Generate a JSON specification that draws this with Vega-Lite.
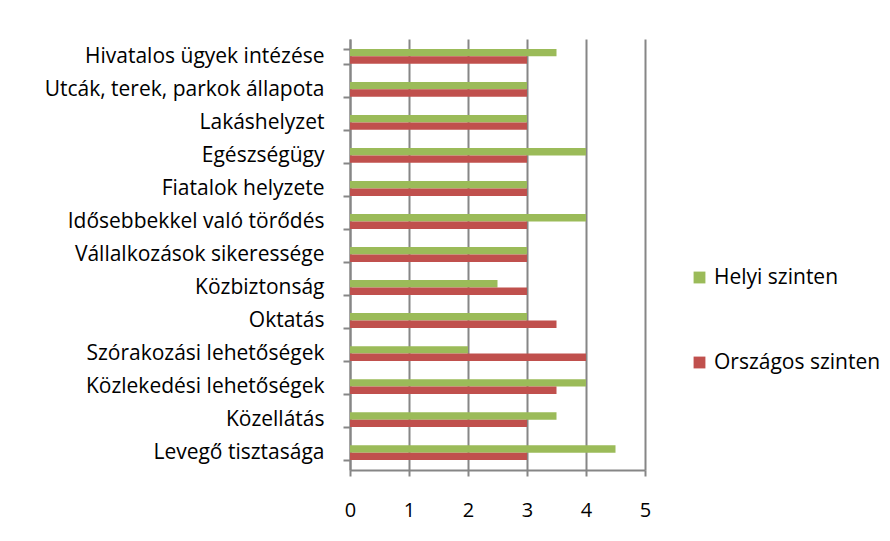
{
  "$schema": "https://vega.github.io/schema/vega-lite/v6.json",
  "autosize": {"type": "none"},
  "width": 295,
  "height": 431,
  "padding": {"left": 350, "top": 39, "right": 245, "bottom": 71},
  "background": "white",
  "config": {
    "view": {"stroke": null},
    "font": "Open Sans"
  },
  "data": {
    "values": [
      {"cat": "Hivatalos ügyek intézése", "series": "Helyi szinten", "value": 3.5},
      {"cat": "Hivatalos ügyek intézése", "series": "Országos szinten", "value": 3},
      {"cat": "Utcák, terek, parkok állapota", "series": "Helyi szinten", "value": 3},
      {"cat": "Utcák, terek, parkok állapota", "series": "Országos szinten", "value": 3},
      {"cat": "Lakáshelyzet", "series": "Helyi szinten", "value": 3},
      {"cat": "Lakáshelyzet", "series": "Országos szinten", "value": 3},
      {"cat": "Egészségügy", "series": "Helyi szinten", "value": 4},
      {"cat": "Egészségügy", "series": "Országos szinten", "value": 3},
      {"cat": "Fiatalok helyzete", "series": "Helyi szinten", "value": 3},
      {"cat": "Fiatalok helyzete", "series": "Országos szinten", "value": 3},
      {"cat": "Idősebbekkel való törődés", "series": "Helyi szinten", "value": 4},
      {"cat": "Idősebbekkel való törődés", "series": "Országos szinten", "value": 3},
      {"cat": "Vállalkozások sikeressége", "series": "Helyi szinten", "value": 3},
      {"cat": "Vállalkozások sikeressége", "series": "Országos szinten", "value": 3},
      {"cat": "Közbiztonság", "series": "Helyi szinten", "value": 2.5},
      {"cat": "Közbiztonság", "series": "Országos szinten", "value": 3},
      {"cat": "Oktatás", "series": "Helyi szinten", "value": 3},
      {"cat": "Oktatás", "series": "Országos szinten", "value": 3.5},
      {"cat": "Szórakozási lehetőségek", "series": "Helyi szinten", "value": 2},
      {"cat": "Szórakozási lehetőségek", "series": "Országos szinten", "value": 4},
      {"cat": "Közlekedési lehetőségek", "series": "Helyi szinten", "value": 4},
      {"cat": "Közlekedési lehetőségek", "series": "Országos szinten", "value": 3.5},
      {"cat": "Közellátás", "series": "Helyi szinten", "value": 3.5},
      {"cat": "Közellátás", "series": "Országos szinten", "value": 3},
      {"cat": "Levegő tisztasága", "series": "Helyi szinten", "value": 4.5},
      {"cat": "Levegő tisztasága", "series": "Országos szinten", "value": 3}
    ]
  },
  "mark": {"type": "bar"},
  "encoding": {
    "y": {
      "field": "cat",
      "type": "nominal",
      "sort": null,
      "scale": {"paddingInner": 0.55, "paddingOuter": 0.3},
      "axis": {
        "title": null,
        "tickBand": "extent",
        "domainColor": "#868686",
        "domainWidth": 2,
        "tickColor": "#868686",
        "tickWidth": 2,
        "tickSize": 7,
        "labelFontSize": 21,
        "labelColor": "#000000",
        "labelPadding": 19,
        "labelLimit": 400
      }
    },
    "yOffset": {
      "field": "series",
      "type": "nominal",
      "sort": ["Helyi szinten", "Országos szinten"]
    },
    "x": {
      "field": "value",
      "type": "quantitative",
      "scale": {"domain": [0, 5], "nice": false},
      "axis": {
        "title": null,
        "values": [0, 1, 2, 3, 4, 5],
        "format": "d",
        "grid": true,
        "gridColor": "#868686",
        "gridWidth": 2,
        "gridOpacity": 1,
        "domainColor": "#868686",
        "domainWidth": 2,
        "tickColor": "#868686",
        "tickWidth": 2,
        "tickSize": 6,
        "labelFontSize": 20,
        "labelColor": "#000000",
        "labelPadding": 24,
        "labelFlush": false
      }
    },
    "color": {
      "field": "series",
      "type": "nominal",
      "sort": ["Helyi szinten", "Országos szinten"],
      "scale": {"domain": ["Helyi szinten", "Országos szinten"], "range": ["#9BBB59", "#C0504D"]},
      "legend": {
        "title": null,
        "orient": "none",
        "legendX": 339,
        "legendY": 228,
        "symbolType": "square",
        "symbolSize": 140,
        "symbolStrokeWidth": 0,
        "labelFontSize": 21,
        "labelColor": "#000000",
        "labelOffset": 4,
        "labelLimit": 300,
        "rowPadding": 63
      }
    }
  }
}
